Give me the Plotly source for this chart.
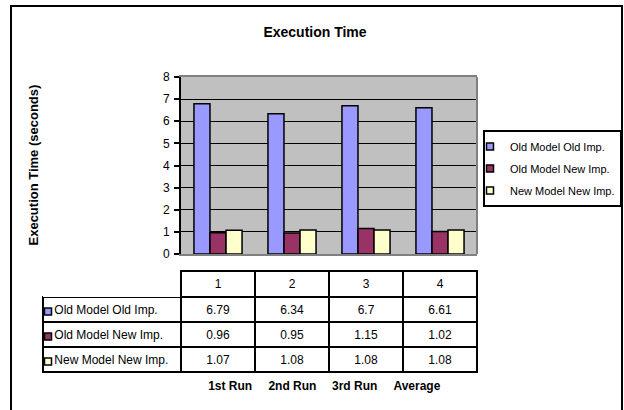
import plotly.graph_objects as go

# ---- data ----
categories = ["1st Run", "2nd Run", "3rd Run", "Average"]
table_header = ["1", "2", "3", "4"]
series_names = ["Old Model Old Imp.", "Old Model New Imp.", "New Model New Imp."]
old_model_old_imp = [6.79, 6.34, 6.7, 6.61]
old_model_new_imp = [0.96, 0.95, 1.15, 1.02]
new_model_new_imp = [1.07, 1.08, 1.08, 1.08]
series_values = [old_model_old_imp, old_model_new_imp, new_model_new_imp]
colors = ["#9999FF", "#993366", "#FFFFCC"]

W, H = 624, 410
FONT = "Arial, 'Liberation Sans', sans-serif"

def px_x(v):
    return v / W

def px_y(v):
    return 1 - v / H

fig = go.Figure()

# bars
for name, vals, col in zip(series_names, series_values, colors):
    fig.add_trace(go.Bar(
        x=categories, y=vals, name=name,
        marker=dict(color=col, line=dict(color="black", width=1.5)),
        showlegend=False, xaxis="x", yaxis="y",
    ))

# legend keys (small squares like the original)
for i, (name, col) in enumerate(zip(series_names, colors)):
    fig.add_trace(go.Scatter(
        x=[None], y=[None], mode="markers", name=name,
        legend="legend", legendgroup=f"g{i}",
        marker=dict(symbol="square", size=7, color=col,
                    line=dict(color="black", width=1.5)),
        xaxis="x", yaxis="y", hoverinfo="skip",
    ))

# legend keys inside the data table rows
for i, (name, col) in enumerate(zip(series_names, colors)):
    fig.add_trace(go.Scatter(
        x=[None], y=[None], mode="markers", name="\u00a0",
        legend="legend2", legendgroup=f"t{i}",
        marker=dict(symbol="square", size=7, color=col,
                    line=dict(color="black", width=1.5)),
        xaxis="x", yaxis="y", hoverinfo="skip",
    ))

# data table
label_cells = ["\u00a0" + n.replace(" ", "\u00a0") for n in series_names]
value_cols = [[vals[i] for vals in series_values] for i in range(len(categories))]
fig.add_trace(go.Table(
    domain=dict(x=[px_x(43), px_x(477)], y=[px_y(373), px_y(271)]),
    columnwidth=[138, 74, 74, 74, 74],
    header=dict(
        values=[""] + table_header,
        align="center",
        height=26,
        fill=dict(color="white"),
        line=dict(color=["rgba(0,0,0,0)", "black", "black", "black", "black"], width=2),
        font=dict(family=FONT, size=12, color="black"),
    ),
    cells=dict(
        values=[label_cells] + value_cols,
        align=["left", "center", "center", "center", "center"],
        height=25,
        fill=dict(color="white"),
        line=dict(color="black", width=2),
        font=dict(family=FONT, size=12, color="black"),
    ),
))

# invisible helper trace to carry the category axis under the table
fig.add_trace(go.Scatter(
    x=categories, y=[0] * len(categories), mode="markers",
    marker=dict(opacity=0), showlegend=False, hoverinfo="skip",
    xaxis="x2", yaxis="y3",
))

fig.update_layout(
    width=W, height=H, autosize=False,
    margin=dict(l=0, r=0, t=0, b=0, autoexpand=False),
    paper_bgcolor="white",
    plot_bgcolor="rgba(0,0,0,0)",
    font=dict(family=FONT, size=12, color="black"),
    barmode="group",
    bargap=0.35,
    bargroupgap=0,
    title=dict(
        text="<b>Execution Time</b>",
        x=px_x(315), xref="paper", xanchor="center",
        y=px_y(32), yref="paper", yanchor="middle",
        font=dict(family=FONT, size=14, color="black"),
    ),
    xaxis=dict(
        domain=[px_x(181), px_x(477)],
        type="category", categoryorder="array", categoryarray=categories,
        showticklabels=False, ticks="",
        showline=True, linecolor="#808080", linewidth=2, mirror=True,
        showgrid=False, zeroline=False, anchor="y",
    ),
    yaxis=dict(
        domain=[px_y(254), px_y(77)],
        range=[0, 8], dtick=1, tick0=0,
        ticks="outside", ticklen=5, tickwidth=2, tickcolor="black",
        ticklabelstandoff=2,
        showline=True, linecolor="black", linewidth=2, mirror=False,
        showgrid=True, gridcolor="black", gridwidth=1,
        zeroline=False, anchor="x",
        tickfont=dict(family=FONT, size=12, color="black"),
    ),
    xaxis2=dict(
        domain=[px_x(199), px_x(448)],
        type="category", categoryorder="array", categoryarray=categories,
        range=[-0.5, len(categories) - 0.5], autorange=False,
        anchor="y3", showline=False, ticks="", showgrid=False, zeroline=False,
        tickfont=dict(family=FONT, size=12, color="black", weight="bold"),
    ),
    yaxis3=dict(
        domain=[px_y(377), px_y(376.5)],
        visible=False, anchor="x2", range=[-1, 1],
    ),
    legend=dict(
        x=px_x(622), y=px_y(130), xanchor="right", yanchor="top",
        bordercolor="black", borderwidth=2, bgcolor="white",
        font=dict(family=FONT, size=11, color="black"),
        indentation=-15, tracegroupgap=3, itemwidth=30,
    ),
    legend2=dict(
        x=px_x(43), y=px_y(297), xanchor="left", yanchor="top",
        borderwidth=0, bgcolor="rgba(0,0,0,0)",
        font=dict(family=FONT, size=12, color="black"),
        indentation=-15, tracegroupgap=6, itemwidth=30,
    ),
    shapes=[
        # plot area background
        dict(type="rect", xref="x domain", yref="y domain", x0=0, x1=1, y0=0, y1=1,
             fillcolor="#C0C0C0", line=dict(width=0), layer="below"),
        # right border of plot area
        dict(type="line", xref="x domain", yref="y domain", x0=1, x1=1, y0=0, y1=1,
             line=dict(color="#808080", width=2), layer="above"),
        # outer chart border
        dict(type="rect", xref="paper", yref="paper",
             x0=px_x(11), x1=px_x(622), y0=-0.05, y1=px_y(6),
             line=dict(color="black", width=2), fillcolor="rgba(0,0,0,0)"),
    ],
    annotations=[
        dict(text="<b>Execution Time (seconds)</b>", textangle=-90,
             xref="paper", x=px_x(33), xanchor="center",
             yref="y domain", y=0.5, yanchor="middle",
             showarrow=False, font=dict(family=FONT, size=13, color="black")),
    ],
)

fig.write_html(
    "out.html",
    config={"displayModeBar": False},
    post_script="document.body.style.margin='0';document.body.style.padding='0';"
                "document.documentElement.style.overflow='hidden';",
)
